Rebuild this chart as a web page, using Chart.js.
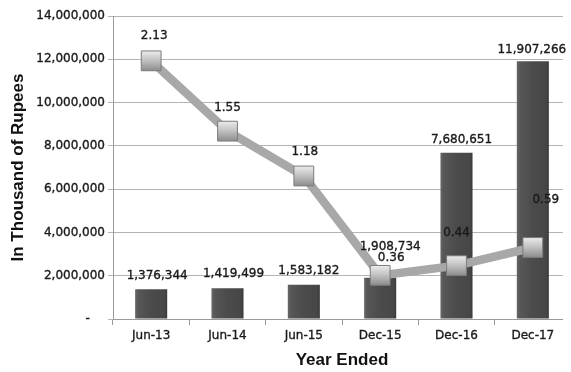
<!DOCTYPE html>
<html>
<head>
<meta charset="utf-8">
<script src="https://cdn.jsdelivr.net/npm/chart.js@4/dist/chart.umd.min.js"></script>
<style>
  html, body { margin: 0; padding: 0; background: #ffffff; }
  #wrap { width: 571px; height: 372px; }
</style>
</head>
<body>
<div id="wrap"><canvas id="chart" width="571" height="372"></canvas></div>
<script>
// Year-end figures (in thousand of rupees) and the matching ratio series
const categories = ['Jun-13', 'Jun-14', 'Jun-15', 'Dec-15', 'Dec-16', 'Dec-17'];
const amounts = [1376344, 1419499, 1583182, 1908734, 7680651, 11907266];
const ratios = [2.13, 1.55, 1.18, 0.36, 0.44, 0.59];
const yTickLabels = ['-', '2,000,000', '4,000,000', '6,000,000', '8,000,000', '10,000,000', '12,000,000', '14,000,000'];

// Label nudges (dx, dy) relative to the top of each bar / centre of each marker
const barLabelOffsets = [[6, -13], [6, -14], [5, -14], [10, -31], [5, -13], [-1, -11]];
const ratioLabelOffsets = [[3, -25], [0, -23], [1, -24], [11, -17], [0, -33], [13, -48]];

const TEXT = '#1a1a1a';
const GRID = '#b4b4b4';
const AXIS = '#9a9a9a';
const PLOT_EDGE = 563; // the plot frame stops here; the last category runs past it

function barFill(ctx) {
  const chart = ctx.chart;
  const xs = chart.scales.x;
  if (ctx.dataIndex === undefined || !xs || !xs.width) return '#4b4b4b';
  const cx = xs.getPixelForValue(ctx.dataIndex);
  const half = 17;
  const g = chart.ctx.createLinearGradient(cx - half, 0, cx + half, 0);
  g.addColorStop(0, '#6c6c6c');
  g.addColorStop(0.12, '#575757');
  g.addColorStop(0.5, '#4b4b4b');
  g.addColorStop(0.88, '#474747');
  g.addColorStop(1, '#383838');
  return g;
}

function markerFill(ctx) {
  const chart = ctx.chart;
  const ys = chart.scales.y1;
  if (ctx.dataIndex === undefined || !ys || !ys.height) return '#c0c0c0';
  const cy = ys.getPixelForValue(ratios[ctx.dataIndex]);
  const g = chart.ctx.createLinearGradient(0, cy - 10, 0, cy + 10);
  g.addColorStop(0, '#ececec');
  g.addColorStop(0.45, '#c4c4c4');
  g.addColorStop(1, '#8c8c8c');
  return g;
}

// Trim grid and axis lines at the plot frame edge
const frameEdge = {
  id: 'frameEdge',
  beforeDatasetsDraw(chart) {
    const ctx = chart.ctx;
    ctx.save();
    ctx.fillStyle = '#ffffff';
    ctx.fillRect(PLOT_EDGE, 0, chart.width - PLOT_EDGE, chart.chartArea.bottom + 8);
    ctx.restore();
  }
};

const valueLabels = {
  id: 'valueLabels',
  afterDatasetsDraw(chart) {
    const ctx = chart.ctx;
    ctx.save();
    ctx.font = '12px "DejaVu Sans"';
    ctx.fillStyle = TEXT;
    ctx.strokeStyle = TEXT;
    ctx.lineWidth = 0.35;
    ctx.textAlign = 'center';
    ctx.textBaseline = 'middle';
    const put = (t, x, y) => { ctx.fillText(t, x, y); ctx.strokeText(t, x, y); };
    chart.getDatasetMeta(0).data.forEach((el, i) => {
      const [dx, dy] = barLabelOffsets[i];
      put(amounts[i].toLocaleString('en-US'), el.x + dx, el.y + dy);
    });
    chart.getDatasetMeta(1).data.forEach((el, i) => {
      const [dx, dy] = ratioLabelOffsets[i];
      put(ratios[i].toFixed(2), el.x + dx, el.y + dy);
    });
    ctx.restore();
  }
};

new Chart(document.getElementById('chart'), {
  type: 'bar',
  data: {
    labels: categories,
    datasets: [
      {
        type: 'bar',
        data: amounts,
        yAxisID: 'y',
        backgroundColor: barFill,
        borderWidth: 0,
        barPercentage: 0.42,
        categoryPercentage: 1,
        order: 1
      },
      {
        type: 'line',
        data: ratios,
        yAxisID: 'y1',
        borderColor: '#a8a8a8',
        borderWidth: 8.5,
        tension: 0,
        pointStyle: 'rect',
        pointRadius: 14,
        pointHoverRadius: 14,
        pointBackgroundColor: markerFill,
        pointBorderColor: '#7c7c7c',
        pointBorderWidth: 1,
        order: 0
      }
    ]
  },
  options: {
    responsive: false,
    animation: false,
    devicePixelRatio: 1,
    layout: { autoPadding: false, padding: { top: 16, right: -4, bottom: 0, left: 0 } },
    plugins: {
      legend: { display: false },
      tooltip: { enabled: false }
    },
    scales: {
      x: {
        offset: true,
        grid: { display: true, drawOnChartArea: false, offset: true, tickLength: 6, color: AXIS },
        border: { color: AXIS },
        ticks: {
          font: { family: 'DejaVu Sans', size: 12 },
          color: TEXT,
          padding: 4,
          textStrokeColor: TEXT,
          textStrokeWidth: 0.35
        },
        title: {
          display: true,
          text: 'Year Ended',
          font: { family: 'Liberation Sans', size: 17, weight: 'bold' },
          color: '#111111',
          padding: { top: 0, bottom: 1 }
        },
        afterFit(scale) { scale.height = 53; }
      },
      y: {
        min: 0,
        max: 14000000,
        grid: { color: GRID, tickLength: 5 },
        border: { color: AXIS },
        ticks: {
          stepSize: 2000000,
          font: { family: 'DejaVu Sans', size: 12 },
          color: TEXT,
          padding: 3,
          textStrokeColor: TEXT,
          textStrokeWidth: 0.35,
          callback: (v, i) => (i === 0 ? yTickLabels[i] + '    ' : yTickLabels[i])
        },
        title: {
          display: true,
          text: 'In Thousand of Rupees',
          font: { family: 'Liberation Sans', size: 17, weight: 'bold' },
          color: '#111111',
          padding: { top: 8, bottom: 0 }
        },
        afterFit(scale) { scale.width = 113; }
      },
      y1: {
        display: false,
        position: 'right',
        min: 0,
        max: 2.5
      }
    }
  },
  plugins: [frameEdge, valueLabels]
});
</script>
</body>
</html>
